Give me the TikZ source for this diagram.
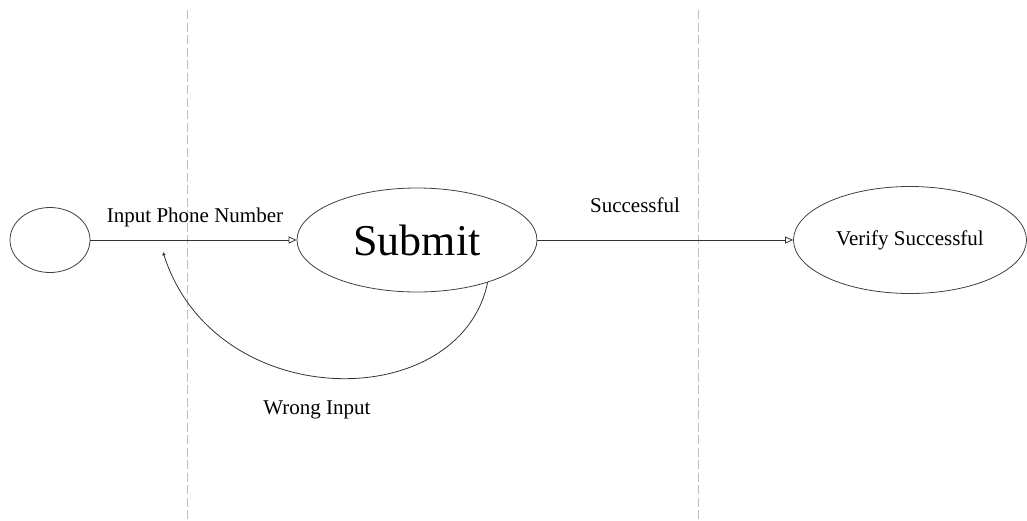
\documentclass[tikz,border=0pt]{standalone}
\usepackage{fontspec}
\setmainfont{Liberation Serif}
\usetikzlibrary{shapes.geometric,arrows.meta}

\tikzset{
  state/.style={draw=black!75, line width=0.8pt, ellipse, inner sep=0pt},
  flow/.style={draw=black!80, line width=0.8pt,
    -{Triangle[open,length=8pt,width=7pt]}},
  lane/.style={draw=black!25, line width=0.9pt, dash pattern=on 9pt off 3.5pt},
  label/.style={font=\fontsize{21}{24}\selectfont, inner sep=0pt}
}

\begin{document}
\begin{tikzpicture}[x=1pt,y=-1pt]
  \useasboundingbox (0,0) rectangle (1027,520);

  % swimlane separators
  \coordinate (l1top) at (187.5,10);
  \coordinate (l1bot) at (187.5,520);
  \coordinate (l2top) at (698.5,10);
  \coordinate (l2bot) at (698.5,520);
  \draw[lane] (l1top) -- (l1bot);
  \draw[lane] (l2top) -- (l2bot);

  % states
  \node[state, minimum width=80pt, minimum height=65pt] (start) at (50,240) {};
  \node[state, minimum width=240pt, minimum height=104pt,
        font=\fontsize{44}{48}\selectfont] (submit) at (417,240) {Submit};
  \node[state, minimum width=233pt, minimum height=107pt,
        font=\fontsize{21}{24}\selectfont] (verify) at (910,240) {Verify Successful};

  % transitions
  \draw[flow] (start) -- (submit);
  \draw[flow] (submit) -- (verify);

  \coordinate (retry) at (163,252);
  \draw[draw=black!80, line width=0.8pt,
        -{Triangle[open,length=3.5pt,width=3pt]}]
    (submit.-31) .. controls (460,415) and (215,415) .. (retry);

  % transition labels
  \node[label] (lphone) at (195,217) {Input Phone Number};
  \node[label] (lsucc) at (635,205) {Successful};
  \node[label] (lwrong) at (317,410) {Wrong Input};
\end{tikzpicture}
\end{document}
